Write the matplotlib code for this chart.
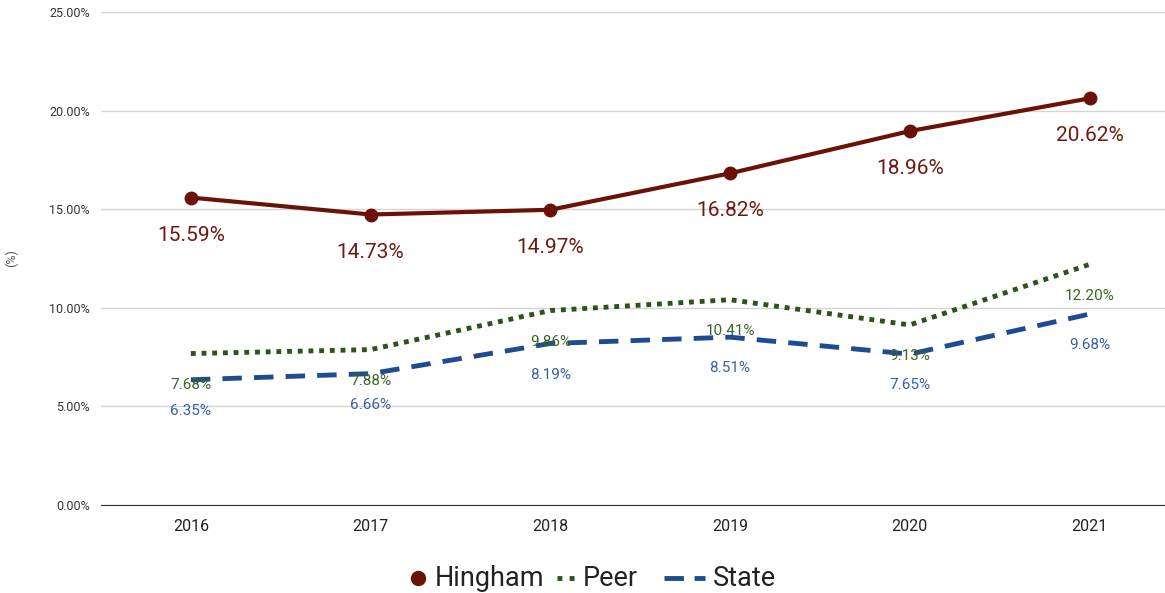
import matplotlib.pyplot as plt
from matplotlib.lines import Line2D
from matplotlib.ticker import FuncFormatter

plt.rcParams['font.family'] = ['Roboto', 'DejaVu Sans']

years = [2016, 2017, 2018, 2019, 2020, 2021]
hingham = [15.59, 14.73, 14.97, 16.82, 18.96, 20.62]
peer = [7.68, 7.88, 9.86, 10.41, 9.13, 12.20]
state = [6.35, 6.66, 8.19, 8.51, 7.65, 9.68]

c_hing = '#6b1208'
c_peer = '#2b5418'
c_state = '#1f4b91'

W, H = 1165, 593
fig = plt.figure(figsize=(W / 100, H / 100), dpi=100)
ax = fig.add_axes([0.0867, 0.1484, 0.9133, 0.8314])

ax.plot(years, hingham, color=c_hing, lw=3, marker='o', ms=9, zorder=4)
ax.plot(years, peer, color=c_peer, lw=3.5, ls=(0, (1, 1.2)), zorder=3)
ax.plot(years, state, color=c_state, lw=3.5, ls=(0, (4, 2.5)), zorder=3)

# point labels below each point
for x, v in zip(years, hingham):
    ax.annotate(f'{v:.2f}%', (x, v), xytext=(0, -27), textcoords='offset points',
                ha='center', va='center', fontsize=15, color='#6e1a10')
for x, v in zip(years, peer):
    ax.annotate(f'{v:.2f}%', (x, v), xytext=(0, -22.5), textcoords='offset points',
                ha='center', va='center', fontsize=11, color='#3a6526')
for x, v in zip(years, state):
    ax.annotate(f'{v:.2f}%', (x, v), xytext=(0, -22.5), textcoords='offset points',
                ha='center', va='center', fontsize=11, color='#3560a5')

ax.set_xlim(2015.5, 2021.42)
ax.set_ylim(0, 25)
ax.set_yticks([0, 5, 10, 15, 20, 25])
ax.yaxis.set_major_formatter(FuncFormatter(lambda v, p: f'{v:.2f}%'))
ax.set_xticks(years)
ax.tick_params(axis='y', length=0, labelsize=9, colors='#333333', pad=8)
ax.tick_params(axis='x', length=0, labelsize=11.5, colors='#222222', pad=10)
ax.grid(axis='y', color='#d4d4d4', lw=1)
ax.set_axisbelow(True)
for s in ['top', 'right', 'left']:
    ax.spines[s].set_visible(False)
ax.spines['bottom'].set_color('#333333')
ax.set_ylabel('(%)', fontsize=9, color='#555555', labelpad=22)

# legend drawn by hand, in pixel positions of the figure
ly = 1 - 578 / H
fig.add_artist(Line2D([418 / W], [ly], color=c_hing, ls='none', marker='o', ms=10,
                      transform=fig.transFigure))
fig.text(435 / W, ly, 'Hingham', fontsize=19.5, color='#222222', va='center')
fig.add_artist(Line2D([557 / W, 575 / W], [ly, ly], color=c_peer, lw=3.5,
                      ls=(0, (1, 1.5)), transform=fig.transFigure))
fig.text(583 / W, ly, 'Peer', fontsize=19.5, color='#222222', va='center')
fig.add_artist(Line2D([664 / W, 705 / W], [ly, ly], color=c_state, lw=3.5,
                      ls=(0, (4, 2.2)), transform=fig.transFigure))
fig.text(713 / W, ly, 'State', fontsize=19.5, color='#222222', va='center')

fig.savefig('out.png', dpi=100)
